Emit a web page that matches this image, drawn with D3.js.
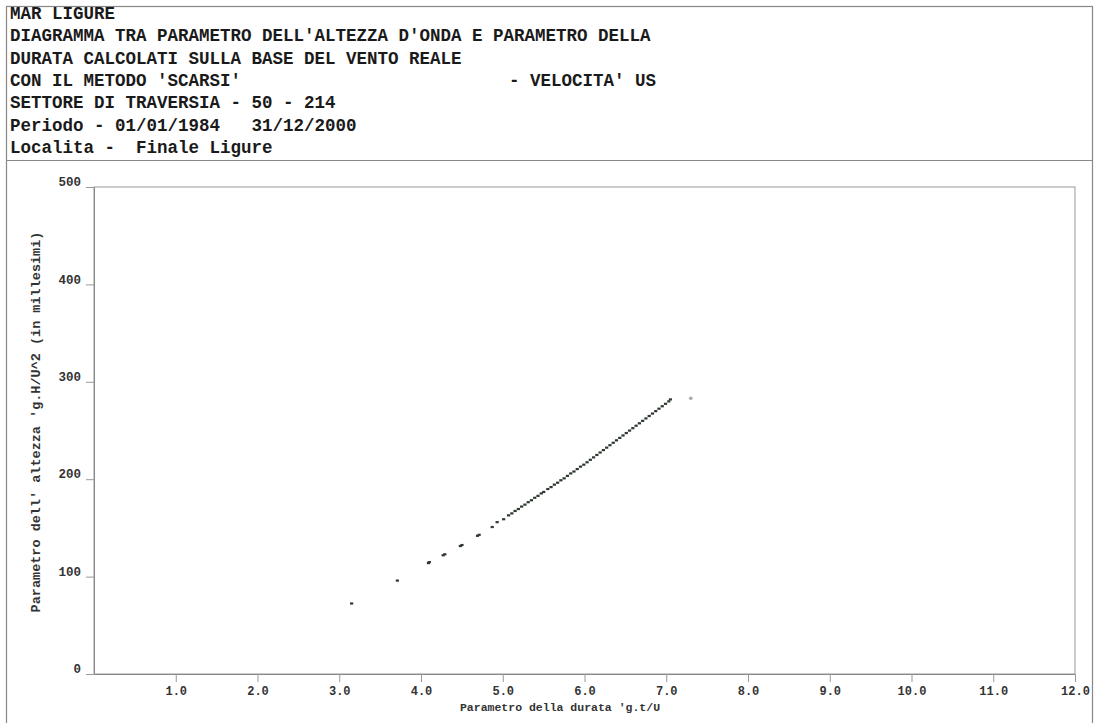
<!DOCTYPE html>
<html><head><meta charset="utf-8">
<script src="https://cdn.jsdelivr.net/npm/d3@7"></script>
<style>body{margin:0;background:#fff}</style>
</head><body>
<script>
const headerLines = [
  "MAR LIGURE",
  "DIAGRAMMA TRA PARAMETRO DELL'ALTEZZA D'ONDA E PARAMETRO DELLA",
  "DURATA CALCOLATI SULLA BASE DEL VENTO REALE",
  "CON IL METODO 'SCARSI'",
  "SETTORE DI TRAVERSIA - 50 - 214",
  "Periodo - 01/01/1984   31/12/2000",
  "Localita -  Finale Ligure"
];
const speedLabel = "- VELOCITA' US";
const xTicks = [1,2,3,4,5,6,7,8,9,10,11,12];
const yTicks = [0,100,200,300,400,500];
const xTitle = "Parametro della durata 'g.t/U";
const yTitle = "Parametro dell' altezza 'g.H/U^2 (in millesimi)";
// duration parameter (x) and height parameter (y, thousandths)
const durata = [3.15,3.71,4.09,4.10,4.27,4.29,4.48,4.50,4.69,4.71,4.87,4.93,5.01,
  5.07,5.11,5.15,5.19,5.23,5.27,5.31,5.35,5.39,5.43,5.47,5.50,
  5.55,5.59,5.63,5.67,5.71,5.75,5.79,5.83,5.87,5.91,5.95,
  5.99,6.03,6.07,6.11,6.15,6.19,6.23,6.27,6.31,6.35,6.39,6.43,6.47,6.51,6.55,6.59,6.63,6.67,6.71,6.75,6.79,6.83,6.87,6.91,6.95,6.99,7.03,7.05];
const altezza = [72.5,96,114,115,122,123,131.5,132.5,142,143,151,156,159,
  163,165,167.5,169.5,172,174,176.5,178.5,181,183,185.5,187,
  190,192,194.5,196.5,199,201,203.5,206,208,210.5,213,
  215,217.5,220,222.5,225,227.5,230,232.5,235,237.5,240,242.5,245,247.5,250,252.5,255,257.5,260,262.5,265,267.5,270,272.5,275,277.5,280,282];
const outlierX = [7.30];
const outlierY = [283];

const W = 1097, H = 723;
const svg = d3.select("body").append("svg").attr("width", W).attr("height", H)
  .style("font-family", "'Liberation Mono', 'DejaVu Sans Mono', monospace").style("font-weight", "bold");
svg.append("rect").attr("width", W).attr("height", H).attr("fill", "#fff");

// frames
svg.append("rect").attr("x", 6.5).attr("y", 6.5).attr("width", 1086).attr("height", 720)
  .attr("fill", "none").attr("stroke", "#888").attr("stroke-width", 1.2);
svg.append("line").attr("x1", 6.5).attr("x2", 1092.5).attr("y1", 160.5).attr("y2", 160.5)
  .attr("stroke", "#888").attr("stroke-width", 1.2);

// header
svg.append("g").selectAll("text").data(headerLines).join("text")
  .attr("x", 10).attr("y", (d, i) => 19 + i * 22.3)
  .attr("font-size", 17.5).attr("fill", "#1a1a1a").style("white-space", "pre")
  .attr("xml:space", "preserve")
  .text(d => d);
svg.append("text").attr("x", 509).attr("y", 19 + 3 * 22.3).attr("font-size", 17.5)
  .attr("fill", "#1a1a1a").text(speedLabel);

const x = d3.scaleLinear().domain([0, 12]).range([94, 1075]);
const y = d3.scaleLinear().domain([0, 500]).range([674, 187]);

// plot box
svg.append("rect").attr("x", 94).attr("y", 187).attr("width", 1075 - 94).attr("height", 674 - 187)
  .attr("fill", "none").attr("stroke", "#999").attr("stroke-width", 1);

const xAxis = svg.append("g").attr("transform", "translate(0,674)")
  .call(d3.axisBottom(x).tickValues(xTicks).tickFormat(d3.format(".1f")).tickSize(8).tickSizeOuter(0));
xAxis.select(".domain").attr("stroke", "#888");
xAxis.selectAll(".tick line").attr("stroke", "#999");
xAxis.selectAll("text").attr("font-size", 12).attr("fill", "#333").attr("dy", "0.8em")
  .attr("font-family", "'Liberation Mono', monospace").attr("font-weight", "bold");

const yAxis = svg.append("g").attr("transform", "translate(94,0)")
  .call(d3.axisLeft(y).tickValues(yTicks).tickFormat(d3.format("d")).tickSize(8).tickSizeOuter(0));
yAxis.select(".domain").attr("stroke", "#888");
yAxis.selectAll(".tick line").attr("stroke", "#999");
yAxis.selectAll("text").attr("font-size", 12.5).attr("fill", "#333").attr("x", -13).attr("dy", "-0.1em")
  .attr("font-family", "'Liberation Mono', monospace").attr("font-weight", "bold");

svg.append("text").attr("x", 560).attr("y", 711).attr("text-anchor", "middle")
  .attr("font-size", 11.5).attr("fill", "#333").text(xTitle);
svg.append("text").attr("transform", "translate(40,422) rotate(-90)").attr("text-anchor", "middle")
  .attr("font-size", 13.5).attr("fill", "#333").text(yTitle);

// points
const pts = durata.map((d, i) => ({x: d, y: altezza[i]}));
svg.append("g").selectAll("rect").data(pts).join("rect")
  .attr("x", d => x(d.x) - 1.5).attr("y", d => y(d.y) - 1)
  .attr("width", 3.2).attr("height", 2.2).attr("fill", "#2e3a2f");
svg.append("g").selectAll("circle").data(outlierX.map((d, i) => ({x: d, y: outlierY[i]}))).join("circle")
  .attr("cx", d => x(d.x)).attr("cy", d => y(d.y)).attr("r", 1.8).attr("fill", "#aaa");
</script>
</body></html>
